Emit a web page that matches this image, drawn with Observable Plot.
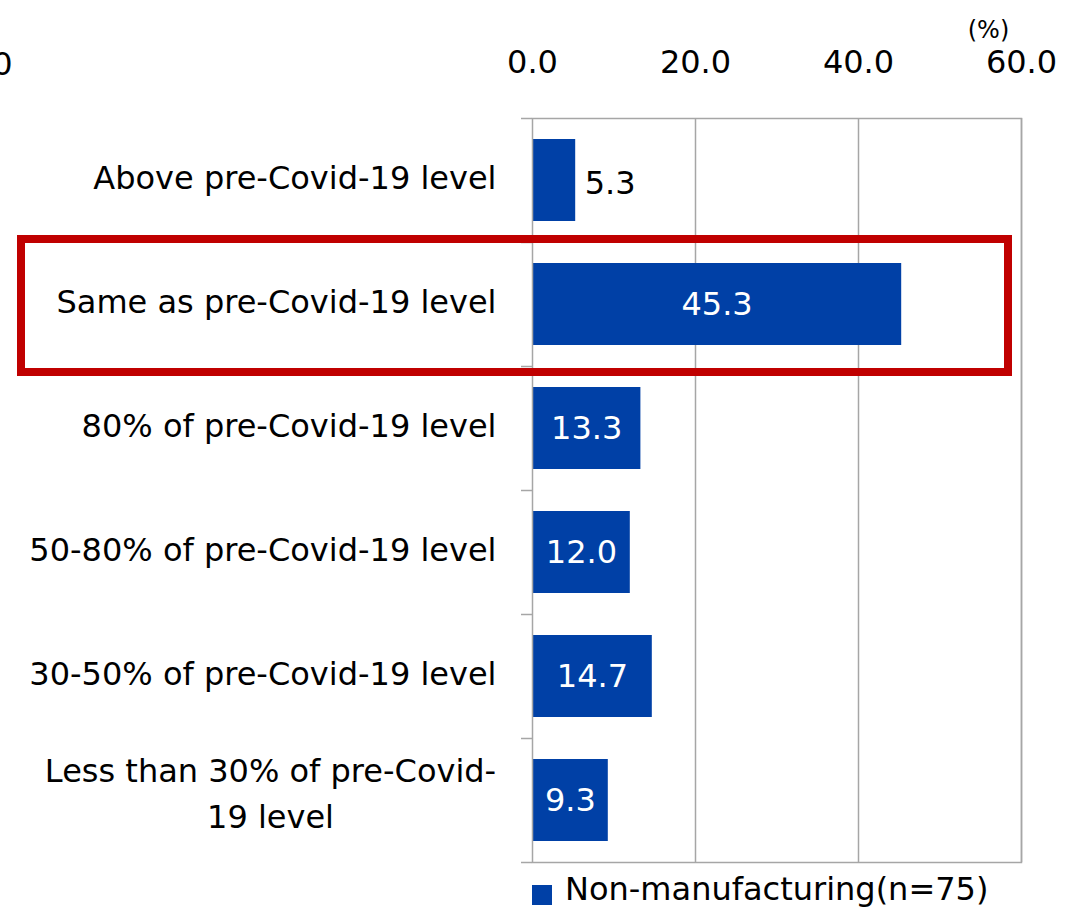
<!DOCTYPE html>
<html>
<head>
<meta charset="utf-8">
<script src="https://cdn.jsdelivr.net/npm/d3@7"></script>
<script src="https://cdn.jsdelivr.net/npm/@observablehq/plot@0.6"></script>
<style>
  html, body { margin: 0; padding: 0; background: #fff; overflow: hidden; }
  #wrap { position: relative; width: 1075px; height: 907px; font-family: "DejaVu Sans", Verdana, sans-serif; color: #000; }
  #legend { position: absolute; left: 532px; top: 871px; display: flex; align-items: center; font-size: 32px; line-height: 37px; white-space: nowrap; }
  #legend .swatch { width: 20px; height: 20px; margin-right: 13px; margin-top: 10px; }
</style>
</head>
<body>
<div id="wrap">
  <div id="chart"></div>
  <div id="legend"></div>
</div>
<script>
// Recovery of business level compared with before Covid-19
const categories = [
  "Above pre-Covid-19 level",
  "Same as pre-Covid-19 level",
  "80% of pre-Covid-19 level",
  "50-80% of pre-Covid-19 level",
  "30-50% of pre-Covid-19 level",
  "Less than 30% of pre-Covid-\n19 level"
];
const values = [5.3, 45.3, 13.3, 12.0, 14.7, 9.3];
const xTicks = [0, 20, 40, 60];
const seriesName = "Non-manufacturing(n=75)";
const unitLabel = "(%)";
const highlighted = "Same as pre-Covid-19 level";
const neighbourTick = "60.0";

const barColor = "#0040A6";
const gridColor = "#A6A6A6";
const font = "DejaVu Sans, Verdana, sans-serif";
const fs = 32;

const data = categories.map((category, i) => ({category, value: values[i]}));

const width = 1075, height = 870;
const marginTop = 118, marginBottom = 8, marginLeft = 532, marginRight = 54;
const plotWidth = width - marginLeft - marginRight;
const step = (height - marginTop - marginBottom) / categories.length;

const singleLine = categories.filter(c => !c.includes("\n"));
const multiLine = categories.filter(c => c.includes("\n"));
const inside = data.filter(d => d.value >= 8);
const outside = data.filter(d => d.value < 8);

const chart = Plot.plot({
  width, height, marginTop, marginBottom, marginLeft, marginRight,
  style: {fontFamily: font, fontSize: fs + "px", color: "#000", background: "#fff", overflow: "visible"},
  x: {domain: [0, 60]},
  y: {domain: categories, paddingInner: 0.34, paddingOuter: 0.17, axis: null},
  marks: [
    Plot.gridX(xTicks.slice(1), {stroke: gridColor, strokeOpacity: 1, strokeWidth: 1.5}),
    Plot.barX(data, {x: "value", y: "category", fill: barColor}),
    Plot.frame({stroke: gridColor, strokeWidth: 1.5}),
    // category boundary ticks to the left of the value axis
    Plot.ruleY(categories, {y: d => d, dy: -step / 2, insetLeft: -11, insetRight: plotWidth, stroke: gridColor, strokeWidth: 1.5}),
    Plot.ruleY(categories.slice(-1), {y: d => d, dy: step / 2, insetLeft: -11, insetRight: plotWidth, stroke: gridColor, strokeWidth: 1.5}),
    Plot.axisX(xTicks, {anchor: "top", tickSize: 0, tickPadding: 46, tickFormat: d => d.toFixed(1), label: null, fontSize: fs, fill: "#000"}),
    Plot.text([unitLabel], {frameAnchor: "top-right", dx: -33, dy: -98, fontSize: 24, textAnchor: "middle"}),
    Plot.text([neighbourTick], {frameAnchor: "top-left", dx: -520, dy: -66, textAnchor: "end", fontSize: fs}),
    // category labels
    Plot.text(singleLine, {y: d => d, frameAnchor: "left", dx: -36, dy: -2, textAnchor: "end", fontSize: fs, fill: "#000"}),
    Plot.text(multiLine, {y: d => d, frameAnchor: "left", dx: -262, dy: -10, textAnchor: "middle", lineHeight: 1.44, fontSize: fs, fill: "#000"}),
    // value labels
    Plot.text(inside, {x: d => d.value / 2, y: "category", text: d => d.value.toFixed(1), fill: "#fff", fontSize: fs}),
    Plot.text(outside, {x: "value", y: "category", text: d => d.value.toFixed(1), dx: 9, dy: 3, textAnchor: "start", fill: "#000", fontSize: fs}),
    // highlight box around the "same as before" row
    Plot.cell([highlighted], {y: d => d, fill: "none", stroke: "#C00000", strokeWidth: 8, insetLeft: -511, insetRight: 13, insetTop: -24, insetBottom: -27})
  ]
});
document.getElementById("chart").appendChild(chart);

const legend = document.getElementById("legend");
legend.innerHTML = `<div class="swatch" style="background:${barColor}"></div><span>${seriesName}</span>`;
</script>
</body>
</html>
